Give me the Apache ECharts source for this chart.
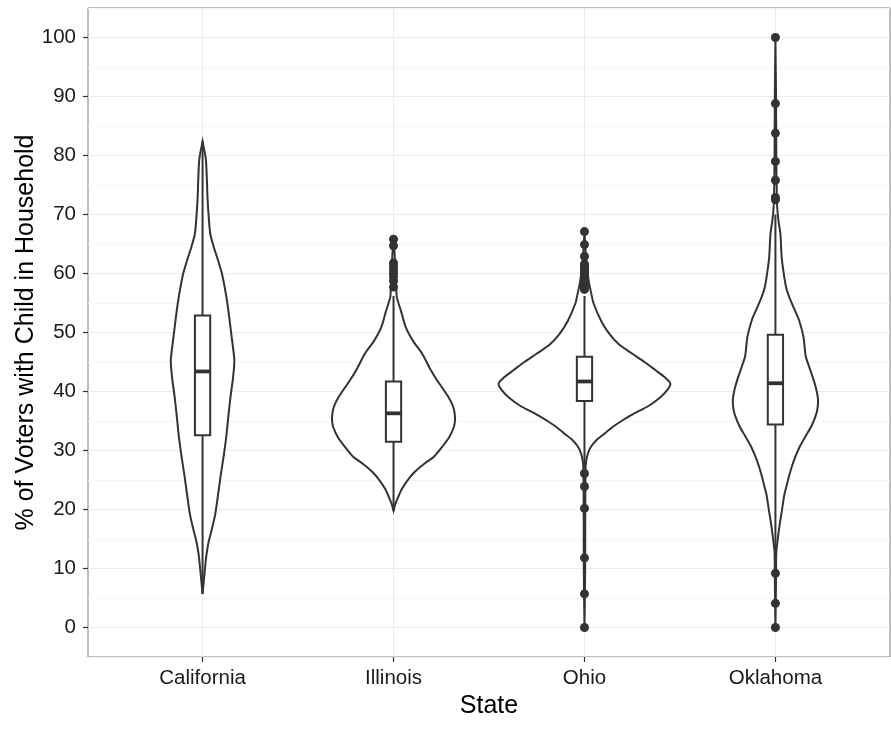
<!DOCTYPE html>
<html>
<head>
<meta charset="utf-8">
<script src="https://cdn.jsdelivr.net/npm/echarts@6/dist/echarts.min.js"></script>
<style>
  html, body { margin: 0; padding: 0; background: #fff; }
  #chart { width: 891px; height: 747px; }
</style>
</head>
<body>
<div id="chart"></div>
<script>
// categories and ticks
const states = ['California', 'Illinois', 'Ohio', 'Oklahoma']
const yTicks = [0, 10, 20, 30, 40, 50, 60, 70, 80, 90, 100]

// box stats per state
const whiskerLow = [5.7, 19.8, 27.0, 12.7]
const q1 = [32.6, 31.5, 38.4, 34.4]
const median = [43.4, 36.3, 41.7, 41.4]
const q3 = [52.9, 41.7, 45.9, 49.6]
const whiskerHigh = [82.4, 56.2, 56.2, 70.0]

// outliers per state
const outCalifornia = []
const outIllinois = [65.8, 64.7, 61.8, 61.2, 60.6, 60.0, 59.4, 58.7, 57.7]
const outOhio = [67.1, 64.9, 62.9, 61.6, 61.2, 60.8, 60.4, 60.0, 59.6, 59.2, 58.8, 58.4, 58.0, 57.6, 57.3,
  26.1, 23.9, 20.2, 11.8, 5.7, 0]
const outOklahoma = [100, 88.8, 83.8, 79.0, 75.8, 72.9, 72.5, 9.2, 4.1, 0]

// violin densities: [value, relative width]
const violinCalifornia = [[82.4, 0], [79.4, 0.038], [76, 0.05], [72.7, 0.058], [69.5, 0.072], [66.7, 0.09],
  [64.5, 0.13], [62.7, 0.17], [60, 0.225], [57.3, 0.262], [54.5, 0.293], [52, 0.315], [48.5, 0.345],
  [45.2, 0.37], [42, 0.352], [39.2, 0.326], [35.8, 0.3], [32.5, 0.277], [29, 0.245], [25.8, 0.211],
  [22.5, 0.18], [19.1, 0.146], [16.5, 0.105], [14.4, 0.069], [12.3, 0.045], [10.4, 0.031], [8, 0.015], [5.7, 0]]
const violinIllinois = [[65.8, 0], [63, 0.014], [60, 0.023], [57.5, 0.032], [56, 0.038], [53.5, 0.09],
  [50.9, 0.142], [48.5, 0.23], [46.4, 0.334], [44, 0.42], [41.9, 0.507], [39, 0.642], [37.5, 0.692],
  [36.2, 0.712], [35, 0.715], [33.9, 0.7], [32.2, 0.646], [30.6, 0.565], [29, 0.473], [27.7, 0.354],
  [26.3, 0.242], [24.9, 0.161], [23.5, 0.098], [22.1, 0.054], [21, 0.023], [19.8, 0]]
const violinOhio = [[67.1, 0], [64, 0.012], [61, 0.029], [58.5, 0.052], [56.5, 0.081], [55, 0.104],
  [52, 0.193], [49.8, 0.288], [48, 0.4], [46.4, 0.557], [45, 0.7], [43.6, 0.827], [42.4, 0.935],
  [41.3, 1.0], [40.2, 0.96], [39, 0.88], [37.5, 0.74], [36.2, 0.57], [35, 0.43], [33.9, 0.32],
  [32.7, 0.22], [31.7, 0.135], [30.5, 0.07], [29.4, 0.038], [28.2, 0.02], [27, 0.013], [20, 0.009],
  [10, 0.008], [0, 0]]
const violinOklahoma = [[100, 0], [90, 0.007], [80, 0.01], [75, 0.014], [71.4, 0.02], [69, 0.035],
  [66.7, 0.058], [62.7, 0.073], [59.3, 0.104], [57.5, 0.127], [56, 0.161], [54, 0.219], [52, 0.277],
  [49.3, 0.326], [47.5, 0.34], [45.9, 0.354], [44.2, 0.392], [42.6, 0.43], [40.5, 0.473], [38.6, 0.496],
  [37.2, 0.49], [35.9, 0.469], [34.2, 0.421], [32.5, 0.354], [30.8, 0.288], [29.2, 0.239], [27.5, 0.196],
  [25.8, 0.161], [24.2, 0.133], [22.5, 0.104], [19.8, 0.075], [17.1, 0.046], [14.5, 0.023],
  [12.75, 0.01], [8, 0.007], [0, 0]]

const violins = [violinCalifornia, violinIllinois, violinOhio, violinOklahoma]
const outliers = [outCalifornia, outIllinois, outOhio, outOklahoma]

const font = 'Liberation Sans, Arial, Helvetica, sans-serif'
const ink = '#333333'
const violinHalf = 0.45 // half of ggplot's default width 0.9
const boxHalf = 0.04

const chart = echarts.init(document.getElementById('chart'))

// violin outline: right side top->bottom, then left side bottom->top
function renderViolin (params, api) {
  const i = api.value(0)
  const pts = violins[i]
  const right = pts.map(p => api.coord([i + 1 + p[1] * violinHalf, p[0]]))
  const left = pts.slice().reverse().map(p => api.coord([i + 1 - p[1] * violinHalf, p[0]]))
  return {
    type: 'polygon',
    shape: { points: right.concat(left), smooth: 0.25 },
    style: { fill: '#fff', stroke: ink, lineWidth: 2 }
  }
}

function renderBox (params, api) {
  const x = api.value(0)
  const lo = api.value(1), b1 = api.value(2), md = api.value(3), b3 = api.value(4), hi = api.value(5)
  const top = api.coord([x, hi])
  const q3c = api.coord([x, b3])
  const q1c = api.coord([x, b1])
  const bot = api.coord([x, lo])
  const bl = api.coord([x - boxHalf, b1])
  const tr = api.coord([x + boxHalf, b3])
  const ml = api.coord([x - boxHalf, md])
  const mr = api.coord([x + boxHalf, md])
  const line = { stroke: ink, lineWidth: 2 }
  return {
    type: 'group',
    children: [
      { type: 'line', shape: { x1: top[0], y1: top[1], x2: q3c[0], y2: q3c[1] }, style: line },
      { type: 'line', shape: { x1: q1c[0], y1: q1c[1], x2: bot[0], y2: bot[1] }, style: line },
      { type: 'rect', shape: { x: bl[0], y: tr[1], width: tr[0] - bl[0], height: bl[1] - tr[1] },
        style: { fill: '#fff', stroke: ink, lineWidth: 2 } },
      { type: 'line', shape: { x1: ml[0], y1: ml[1], x2: mr[0], y2: mr[1] }, style: { stroke: ink, lineWidth: 3.8 } }
    ]
  }
}

const boxData = states.map((s, i) => [i + 1, whiskerLow[i], q1[i], median[i], q3[i], whiskerHigh[i]])
const pointData = []
outliers.forEach((list, i) => list.forEach(v => pointData.push([i + 1, v])))

chart.setOption({
  animation: false,
  grid: {
    left: 88, right: 1, top: 8, bottom: 90,
    outerBoundsMode: 'none',
    show: true, borderColor: '#7f7f7f', borderWidth: 1
  },
  xAxis: {
    type: 'value',
    min: 0.4,
    max: 4.6,
    name: 'State',
    nameLocation: 'middle',
    nameGap: 37,
    nameMoveOverlap: false,
    nameTextStyle: { fontSize: 25, color: '#000', fontFamily: font },
    axisLine: { show: false, onZero: false },
    axisTick: { show: true, customValues: [1, 2, 3, 4], length: 5, lineStyle: { color: ink, width: 1.2 } },
    axisLabel: {
      customValues: [1, 2, 3, 4],
      formatter: v => states[v - 1],
      margin: 11,
      fontSize: 20.5,
      color: '#1a1a1a',
      fontFamily: font
    },
    splitLine: { show: true, lineStyle: { color: '#ebebeb', width: 1 } }
  },
  yAxis: [
    {
      // grid lines: minor every 5, major every 10
      type: 'value',
      min: -5,
      max: 105,
      interval: 5,
      axisLine: { show: false, onZero: false },
      axisTick: { show: false },
      axisLabel: { show: false },
      splitLine: { show: true, lineStyle: { color: ['#f5f5f5', '#ebebeb'], width: 1 } }
    },
    {
      // labels and ticks only at the major values
      type: 'value',
      position: 'left',
      min: -5,
      max: 105,
      interval: 5,
      name: '% of Voters with Child in Household',
      nameLocation: 'middle',
      nameGap: 49,
      nameMoveOverlap: false,
      nameTextStyle: { fontSize: 25, color: '#000', fontFamily: font },
      axisLine: { show: false, onZero: false },
      splitLine: { show: false },
      axisTick: { show: true, customValues: yTicks, length: 5, lineStyle: { color: ink, width: 1.2 } },
      axisLabel: { customValues: yTicks, margin: 12, fontSize: 20.5, color: '#1a1a1a', fontFamily: font }
    }
  ],
  series: [
    {
      type: 'custom',
      name: 'violin',
      renderItem: renderViolin,
      data: states.map((s, i) => [i]),
      encode: { x: -1, y: -1 },
      z: 2
    },
    {
      type: 'custom',
      name: 'box',
      renderItem: renderBox,
      data: boxData,
      encode: { x: 0, y: [1, 2, 3, 4, 5] },
      z: 3
    },
    {
      type: 'scatter',
      name: 'outliers',
      data: pointData,
      symbolSize: 9,
      itemStyle: { color: ink, opacity: 1 },
      z: 4
    }
  ]
})
</script>
</body>
</html>
